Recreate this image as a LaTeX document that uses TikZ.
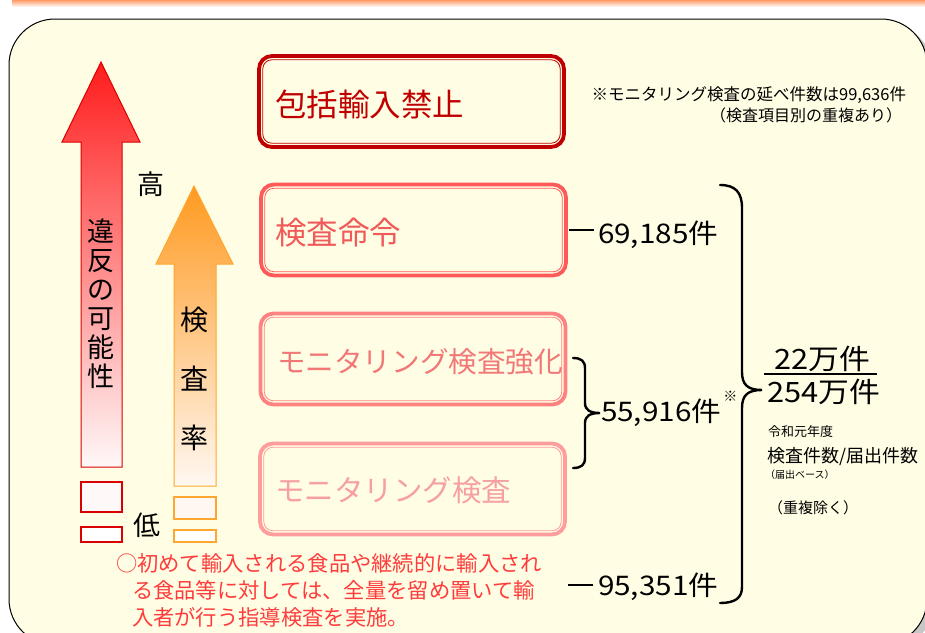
\documentclass[tikz,border=0pt]{standalone}
\usepackage{fontspec}
\setmainfont{Noto Sans CJK JP}
\newcommand{\fsl}[2]{\fontsize{#1}{#2}\selectfont}
\newcommand{\wide}[1]{\scalebox{1.1}[1]{#1}}
\definecolor{cream}{HTML}{FFFEE5}
\definecolor{band}{HTML}{FF9C66}
\definecolor{dred}{HTML}{C00000}
\definecolor{redA}{HTML}{FF5A5A}
\definecolor{redAt}{HTML}{F05A5A}
\definecolor{redB}{HTML}{FF8282}
\definecolor{redBt}{HTML}{F27878}
\definecolor{redC}{HTML}{FF9C9C}
\definecolor{redCt}{HTML}{F7A0A0}
\definecolor{arrR}{HTML}{FF1C1C}
\definecolor{arrRm}{HTML}{FF8A8A}
\definecolor{arrRb}{HTML}{FFF8F8}
\definecolor{arrRo}{HTML}{D80000}
\definecolor{arrO}{HTML}{FF9A20}
\definecolor{arrOm}{HTML}{FFC498}
\definecolor{arrOb}{HTML}{FFF8F2}
\definecolor{arrOo}{HTML}{FFA62E}
\definecolor{note}{HTML}{FF3C3C}
\begin{document}
\begin{tikzpicture}[x=1pt,y=-1pt,
  every node/.style={inner sep=0pt, outer sep=0pt},
  bx/.style={draw=#1, line width=3.8pt, rounded corners=13pt, minimum width=305pt, minimum height=91pt},
  bxin/.style={draw=#1, line width=0.8pt, rounded corners=9pt},
  numline/.style={line width=2.6pt},
  brace/.style={line width=2.4pt, line cap=round},
  num/.style={font=\fsl{27}{30}, anchor=west}]
\useasboundingbox (0,0) rectangle (925,632);
% top band
\shade[top color=band, bottom color=white] (12,0) rectangle (925,7);
% main panel
\fill[black!22, rounded corners=46pt] (14,24) rectangle (933,650);
\draw[fill=cream, line width=1pt, rounded corners=46pt] (9,19) rectangle (927,645);
% red arrow
\path[draw=arrRo, line width=1pt, top color=arrR, middle color=arrRm, bottom color=arrRb]
  (101,62) -- (140,142) -- (122,142) -- (122,467) -- (81,467) -- (81,142) -- (62,142) -- cycle;
\draw[draw=arrRo, line width=1.2pt, fill=arrRb] (81,482) rectangle (122,512);
\draw[draw=arrRo, line width=1.2pt, fill=white] (81,527) rectangle (122,542);
% orange arrow
\path[draw=arrOo, line width=1pt, top color=arrO, middle color=arrOm, bottom color=arrOb]
  (194,186) -- (233,264) -- (216,264) -- (216,486) -- (174,486) -- (174,264) -- (156,264) -- cycle;
\draw[draw=arrOo, line width=1.2pt, fill=arrOb] (174,497) rectangle (216,519);
\draw[draw=arrOo, line width=1.2pt, fill=white] (174,530) rectangle (216,542);
% vertical labels
\node[font=\fsl{27}{29}, align=center] (v1) at (101,304) {違\\反\\の\\可\\能\\性};
\node[font=\fsl{28}{59}, align=center] (v2) at (194,379) {検\\査\\率};
\node[font=\fsl{27}{30}] (hi) at (151,184) {高};
\node[font=\fsl{27}{30}] (lo) at (147,525) {低};
% boxes
\node[bx=dred] (b1) at (411.5,101.5) {};
\draw[bxin=dred] ([shift={(3.8,3.8)}]b1.north west) rectangle ([shift={(-3.8,-3.8)}]b1.south east);
\node[font=\fsl{31.5}{34}, text=dred, anchor=west] (t1) at (275,104) {包括輸入禁止};
\node[bx=redA] (b2) at (413.5,230) {};
\draw[bxin=redA] ([shift={(3.8,3.8)}]b2.north west) rectangle ([shift={(-3.8,-3.8)}]b2.south east);
\node[font=\fsl{31.5}{34}, text=redAt, anchor=west] (t2) at (275,233) {検査命令};
\node[bx=redB] (b3) at (413,359) {};
\draw[bxin=redB] ([shift={(3.8,3.8)}]b3.north west) rectangle ([shift={(-3.8,-3.8)}]b3.south east);
\node[font=\fsl{28.6}{32}, text=redBt, anchor=west] (t3) at (277,362) {モニタリング検査強化};
\node[bx=redC] (b4) at (412.5,489) {};
\draw[bxin=redC] ([shift={(3.8,3.8)}]b4.north west) rectangle ([shift={(-3.8,-3.8)}]b4.south east);
\node[font=\fsl{29.5}{32}, text=redCt, anchor=west] (t4) at (275,490) {モニタリング検査};
% notes top right
\node[font=\fsl{16.5}{19}, anchor=east] (r1) at (906,95) {※モニタリング検査の延べ件数は99,636件};
\node[font=\fsl{16}{19}, anchor=east] (r2) at (902,115) {（検査項目別の重複あり）};
% numbers
\node[num] (n1) at (598,235) {\wide{69,185件}};
\draw[numline] ([xshift=3pt]b2.east) -- ([xshift=-4pt]b2.east -| n1.west);
\node[num] (n2) at (601,413) {\wide{55,916件}};
\node[font=\fsl{14}{15}, anchor=west] (ast) at ([xshift=2pt,yshift=3pt]n2.north east) {※};
\node[num] (n3) at (598,587) {\wide{95,351件}};
\coordinate (c3) at (568,585);
\draw[numline] (c3) -- ([xshift=-5pt]c3 -| n3.west);
% small brace
\draw[brace] (573,358) .. controls (581,358) and (585,361) .. (585,368) -- (585,403)
  .. controls (585,410) and (590,413) .. (600,413) .. controls (590,413) and (585,416) .. (585,423)
  -- (585,458) .. controls (585,465) and (581,468) .. (573,468);
% big brace
\draw[brace] (720,185) .. controls (735,185) and (742,192) .. (742,208) -- (742,372)
  .. controls (742,385) and (748,390) .. (762,390) .. controls (748,390) and (742,395) .. (742,408)
  -- (742,587) .. controls (742,598) and (735,603) .. (720,603);
% fraction
\node[font=\fsl{28}{30}] (f1) at (822,359) {\wide{22万件}};
\node[font=\fsl{28}{30}] (f2) at (824,392) {\wide{254万件}};
\draw[line width=1.8pt] (764,374) -- (877,374);
% right explanations
\node[font=\fsl{13}{15}, anchor=west] (e1) at (768,432) {令和元年度};
\node[font=\fsl{18}{20}, anchor=west] (e2) at (767,457) {検査件数/届出件数};
\node[font=\fsl{10}{12}, anchor=west] (e3) at (765,475) {（届出ベース）};
\node[font=\fsl{15}{17}, anchor=west] (e4) at (768,508) {（重複除く）};
% bottom note
\node[font=\fsl{21.3}{27}, text=note, align=left, anchor=north west] (bn) at (116,554)
  {○初めて輸入される食品や継続的に輸入され\\\hspace*{16pt}る食品等に対しては、全量を留め置いて輸\\\hspace*{16pt}入者が行う指導検査を実施。};
\end{tikzpicture}
\end{document}
